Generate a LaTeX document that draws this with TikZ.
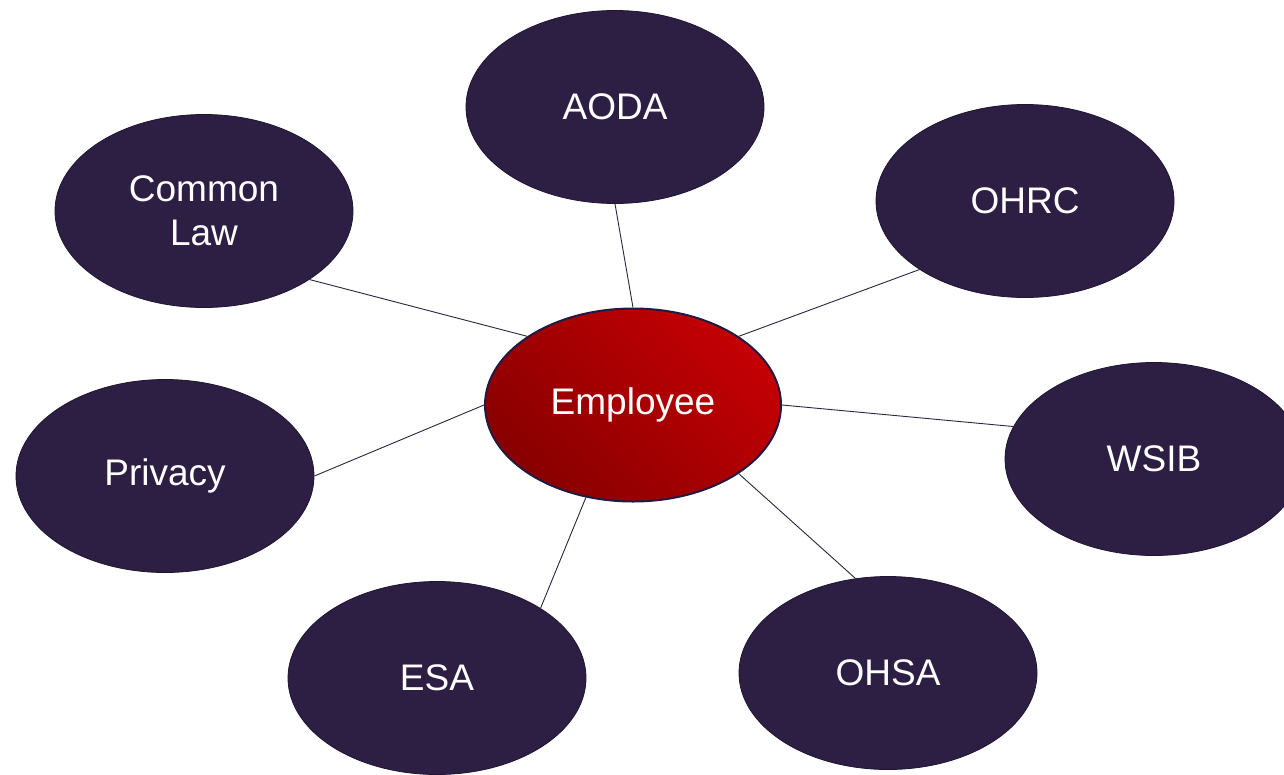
\documentclass[tikz,border=0pt]{standalone}
\usepackage{fontspec}
\setmainfont{Liberation Sans}
\usetikzlibrary{shapes.geometric}
\definecolor{topicfill}{HTML}{2D1E44}
\definecolor{topicline}{HTML}{1E1530}
\definecolor{hubdark}{HTML}{880000}
\definecolor{hubbright}{HTML}{C40004}
\definecolor{hubline}{HTML}{221A40}
\definecolor{linkline}{HTML}{2A2440}
\begin{document}
\begin{tikzpicture}[x=1pt,y=-1pt,
  bubble/.style={ellipse, minimum width=298pt, minimum height=193pt, inner sep=0pt,
    fill=topicfill, draw=topicline, line width=0.8pt, text=white, align=center,
    font=\fontsize{37}{44}\selectfont},
  hub/.style={bubble, left color=hubdark, right color=hubbright, shading angle=135,
    draw=hubline, line width=2pt, minimum width=296pt},
  link/.style={draw=linkline, line width=0.9pt}]
\useasboundingbox (0,0) rectangle (1284,774);
\clip (0,0) rectangle (1284,774);
% topic bubbles around the central hub
\node[bubble] (aoda)    at (615,107) {AODA};
\node[bubble] (common)  at (204,211) {Common\\Law};
\node[bubble] (ohrc)    at (1025,201) {OHRC};
\node[bubble] (wsib)    at (1154,459) {WSIB};
\node[bubble] (privacy) at (165,476) {Privacy};
\node[bubble] (esa)     at (437,678) {ESA};
\node[bubble] (ohsa)    at (888,673) {OHSA};
\node[hub]    (emp)     at (633,405) {Employee};
% spokes from the hub to each topic
\draw[link] (emp.90)  -- (aoda.270);
\draw[link] (emp.147) -- (common.327);
\draw[link] (emp.33)  -- (ohrc.213);
\draw[link] (emp.0)   -- (wsib.167);
\draw[link] (emp.180) -- (privacy.0);
\draw[link] (emp.243) -- (esa.34);
\draw[link] (emp.327) -- (ohsa.109);
\end{tikzpicture}
\end{document}
